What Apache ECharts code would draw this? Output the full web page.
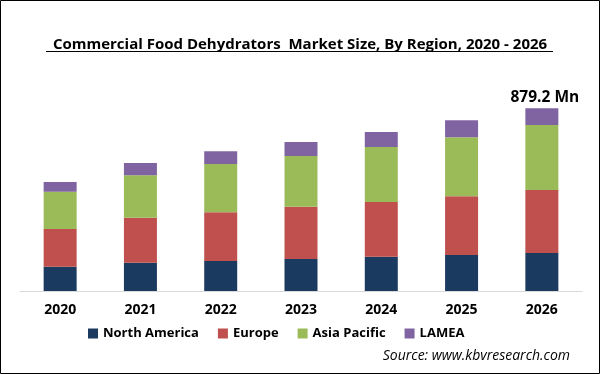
<!DOCTYPE html>
<html><head><meta charset="utf-8">
<script src="https://cdn.jsdelivr.net/npm/echarts@6/dist/echarts.min.js"></script>
<style>html,body{margin:0;padding:0;background:#fff}#c{width:600px;height:374px}</style>
</head><body><div id="c"></div>
<script>
const years = ['2020','2021','2022','2023','2024','2025','2026'];
const northAmerica = [117, 136, 144, 154, 165, 173, 183];
const europe = [181, 216, 235, 251, 263, 283, 303];
const asiaPacific = [179, 205, 232, 244, 264, 283, 312];
const lamea = [47, 58, 61, 67, 72, 82, 81.2];
const topLabel = '879.2 Mn';

const font = 'Open Sans';
const chart = echarts.init(document.getElementById('c'));
function mk(name, data, color, label) {
  const s = { name, type: 'bar', stack: 'total', data, barWidth: 33, itemStyle: { color } };
  if (label) {
    s.label = { show: true, position: 'top', distance: 3, fontFamily: font, fontWeight: 'bold', fontSize: 15.5, color: '#000',
      offset: [3, 0],
      formatter: p => p.dataIndex === years.length - 1 ? topLabel : '' };
  }
  return s;
}
chart.setOption({
  animation: false,
  title: { text: 'Commercial Food Dehydrators  Market Size, By Region, 2020 - 2026', left: 'center', top: 32,
    textStyle: { fontFamily: font, fontWeight: 'bold', fontSize: 15, color: '#000' } },
  graphic: [
    { type: 'rect', shape: { x: 0.5, y: 0.5, width: 599, height: 373 }, style: { fill: 'none', stroke: '#000', lineWidth: 1 } },
    { type: 'line', shape: { x1: 46, y1: 51.5, x2: 553, y2: 51.5 }, style: { stroke: '#000', lineWidth: 1 } },
    { type: 'text', right: 30, top: 349, style: { text: 'Source: www.kbvresearch.com', font: 'italic 14px "Open Sans"', fill: '#000' } }
  ],
  legend: { bottom: 29, left: 83, itemWidth: 10, itemHeight: 10, itemGap: 19, icon: 'rect',
    textStyle: { fontFamily: font, fontWeight: 'bold', fontSize: 13, color: '#000' } },
  grid: { left: 20, right: 18, top: 83, bottom: 83 },
  xAxis: { type: 'category', data: years, axisTick: { show: false },
    axisLine: { lineStyle: { color: '#d9d9d9' } },
    axisLabel: { fontFamily: font, fontWeight: 'bold', fontSize: 14, color: '#000', margin: 12 } },
  yAxis: { type: 'value', min: 0, max: 1000, show: false, splitLine: { show: false } },
  series: [
    mk('North America', northAmerica, '#1b3a5f'),
    mk('Europe', europe, '#c0504d'),
    mk('Asia Pacific', asiaPacific, '#9bbb59'),
    mk('LAMEA', lamea, '#8064a2', true)
  ]
});
</script></body></html>
